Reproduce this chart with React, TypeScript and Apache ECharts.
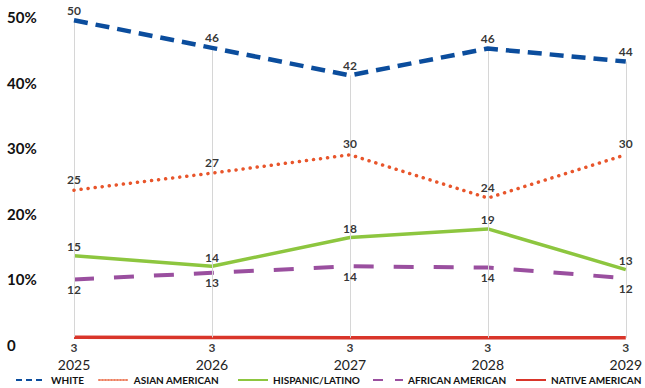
import React, { useEffect, useRef } from "react";
import * as echarts from "echarts";

const years = ["2025", "2026", "2027", "2028", "2029"];
const yTicks = [0, 10, 20, 30, 40, 50];

const seriesNames = ["WHITE", "ASIAN AMERICAN", "HISPANIC/LATINO", "AFRICAN AMERICAN", "NATIVE AMERICAN"];

const white = [49.5, 45.3, 41.1, 45.2, 43.2];
const whiteLabels = [50, 46, 42, 46, 44];
const asian = [23.6, 26.2, 29.0, 22.4, 29.0];
const asianLabels = [25, 27, 30, 24, 30];
const hispanic = [13.6, 12.0, 16.4, 17.7, 11.5];
const hispanicLabels = [15, 14, 18, 19, 13];
const african = [10.0, 11.0, 12.0, 11.8, 10.2];
const africanLabels = [12, 13, 14, 14, 12];
const native = [1.2, 1.15, 1.1, 1.1, 1.1];
const nativeLabels = [3, 3, 3, 3, 3];

const colors = ["#0b4d9d", "#e8552b", "#8dc63f", "#9a4f9f", "#d9352a"];

const FONT = "Lato, 'Noto Sans', sans-serif";

export default function App() {
  const ref = useRef<HTMLDivElement>(null);

  useEffect(() => {
    if (!ref.current) return;
    const chart = echarts.init(ref.current, null, { renderer: "svg" });

    const labelSeries = (id: string, values: number[], labels: number[], pos: string, dist: number) => ({
      name: id,
      type: "scatter",
      data: values,
      symbol: "circle",
      symbolSize: 2,
      silent: true,
      z: 10,
      itemStyle: { color: "rgba(0,0,0,0)" },
      label: {
        show: true,
        position: pos,
        distance: dist,
        color: "#000",
        fontFamily: FONT,
        fontWeight: "bold",
        fontSize: 12,
        formatter: (p: any) => String(labels[p.dataIndex]),
      },
    });

    const drop = years.map((_, i) => [
      { coord: [i, white[i]] },
      { coord: [i, native[i]] },
    ]);

    const legendLefts = [15, 98, 237, 372, 515];
    const legendStyles = [
      { width: 2, type: [6, 4] },
      { width: 1.5, type: [1.5, 1.5] },
      { width: 2, type: "solid" },
      { width: 2, type: [10, 12] },
      { width: 2, type: "solid" },
    ];

    chart.setOption({
      animation: false,
      backgroundColor: "#fff",
      grid: { left: 74, right: 16, top: 17, bottom: 43 },
      legend: seriesNames.map((n, i) => ({
        left: legendLefts[i],
        top: 375,
        padding: 0,
        itemWidth: 30,
        itemHeight: 8,
        textStyle: { fontFamily: FONT, fontWeight: "bold", fontSize: 10, color: "#111" },
        data: [
          {
            name: n,
            lineStyle: { ...legendStyles[i], color: colors[i] },
            itemStyle: { color: "rgba(0,0,0,0)", borderWidth: 0, opacity: 0 },
          },
        ],
      })),
      xAxis: {
        type: "category",
        data: years,
        boundaryGap: false,
        axisLine: { show: false },
        axisTick: { show: false },
        splitLine: { show: false },
        axisLabel: { margin: 12, fontFamily: FONT, fontSize: 14, color: "#222" },
      },
      yAxis: {
        type: "value",
        min: yTicks[0],
        max: yTicks[yTicks.length - 1],
        interval: 10,
        axisLine: { show: false },
        axisTick: { show: false },
        splitLine: { show: false },
        axisLabel: {
          align: "left",
          margin: 67,
          fontFamily: FONT,
          fontWeight: "bold",
          fontSize: 15,
          color: "#111",
          formatter: (v: number) => (v === 0 ? "0" : v + "%"),
        },
      },
      series: [
        {
          name: "drops",
          type: "line",
          data: white,
          symbol: "none",
          silent: true,
          z: 1,
          lineStyle: { opacity: 0 },
          markLine: {
            silent: true,
            symbol: "none",
            label: { show: false },
            lineStyle: { color: "#d6d6d6", width: 1, type: "solid" },
            data: drop,
          },
        },
        {
          name: seriesNames[4],
          type: "line",
          data: native,
          symbol: "none",
          z: 2,
          color: colors[4],
          lineStyle: { color: colors[4], width: 3.5 },
        },
        {
          name: seriesNames[3],
          type: "line",
          data: african,
          symbol: "none",
          z: 3,
          color: colors[3],
          lineStyle: { color: colors[3], width: 4, type: [20, 20] },
        },
        {
          name: seriesNames[2],
          type: "line",
          data: hispanic,
          symbol: "none",
          z: 4,
          color: colors[2],
          lineStyle: { color: colors[2], width: 3.5 },
        },
        {
          name: seriesNames[1],
          type: "line",
          data: asian,
          symbol: "none",
          z: 5,
          color: colors[1],
          lineStyle: { color: colors[1], width: 3.5, type: [0.1, 7], cap: "round" },
        },
        {
          name: seriesNames[0],
          type: "line",
          data: white,
          symbol: "none",
          z: 6,
          color: colors[0],
          lineStyle: { color: colors[0], width: 4.5, type: [14, 8] },
        },
        labelSeries("lblWhite", white, whiteLabels, "top", 3),
        labelSeries("lblAsian", asian, asianLabels, "top", 4),
        labelSeries("lblHispanic", hispanic, hispanicLabels, "top", 2),
        labelSeries("lblAfrican", african, africanLabels, "bottom", 3),
        labelSeries("lblNative", native, nativeLabels, "bottom", 3),
      ],
    });

    return () => chart.dispose();
  }, []);

  return (
    <div
      ref={ref}
      style={{ position: "fixed", left: 0, top: 0, width: 645, height: 388, background: "#fff" }}
    />
  );
}
